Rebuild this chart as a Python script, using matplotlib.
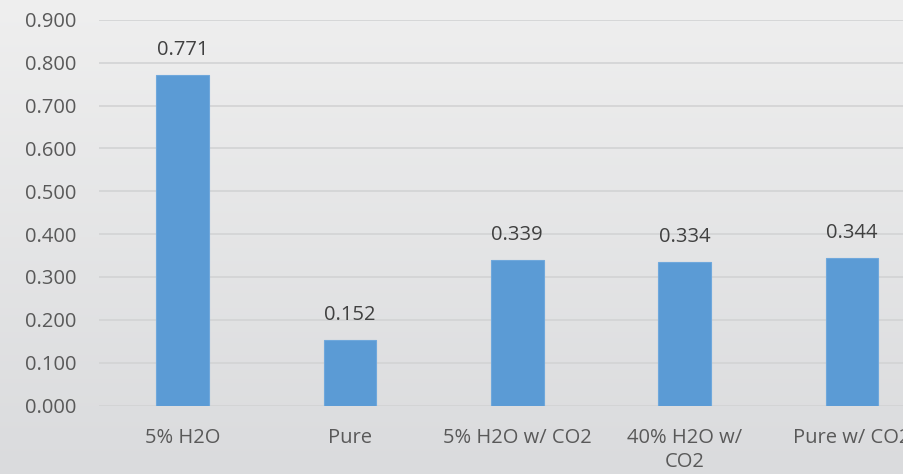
import numpy as np
import matplotlib.pyplot as plt

categories = ['5% H2O', 'Pure', '5% H2O w/ CO2', '40% H2O w/\nCO2', 'Pure w/ CO2']
values = [0.771, 0.152, 0.339, 0.334, 0.344]
yticks = [0.0, 0.1, 0.2, 0.3, 0.4, 0.5, 0.6, 0.7, 0.8, 0.9]

bar_color = '#5b9bd5'
text_color = '#595959'
grid_color = '#d2d3d4'

plt.rcParams['font.family'] = ['Open Sans', 'DejaVu Sans']

fig = plt.figure(figsize=(9.04, 4.74), dpi=100)

# soft vertical gradient behind everything
bg = fig.add_axes([0, 0, 1, 1], zorder=-10)
grad = np.linspace(0, 1, 256).reshape(-1, 1)
top = np.array([0.937, 0.937, 0.937])
bot = np.array([0.855, 0.859, 0.867])
img = top + (bot - top) * grad[:, :, None]
bg.imshow(img, aspect='auto', extent=[0, 1, 0, 1])
bg.axis('off')

# plot area runs past the right edge, so the last label gets cut
ax = fig.add_axes([99 / 904, 68.5 / 474, 836.5 / 904, 385.5 / 474])
ax.patch.set_alpha(0)

x = np.arange(len(categories))
bars = ax.bar(x, values, width=0.315, color=bar_color, edgecolor='#6fa8dc',
              linewidth=0.8, zorder=3)

for rect, v in zip(bars, values):
    ax.annotate('%.3f' % v, (rect.get_x() + rect.get_width() / 2, v),
                xytext=(0, 11), textcoords='offset points',
                ha='center', va='bottom', fontsize=14.5, color='#404040')

ax.set_xlim(-0.5, len(categories) - 0.5)
ax.set_ylim(0, 0.9)
ax.set_yticks(yticks)
ax.set_yticklabels(['%.3f' % t for t in yticks])
ax.set_xticks(x)
ax.set_xticklabels(categories, linespacing=1.3)

ax.yaxis.grid(True, color=grid_color, linewidth=1.2, zorder=0)
ax.set_axisbelow(True)
for s in ax.spines.values():
    s.set_visible(False)
ax.tick_params(axis='both', length=0, labelsize=14.5, labelcolor=text_color)
ax.tick_params(axis='y', pad=16)
ax.tick_params(axis='x', pad=16)

fig.savefig('out.png', dpi=100)
